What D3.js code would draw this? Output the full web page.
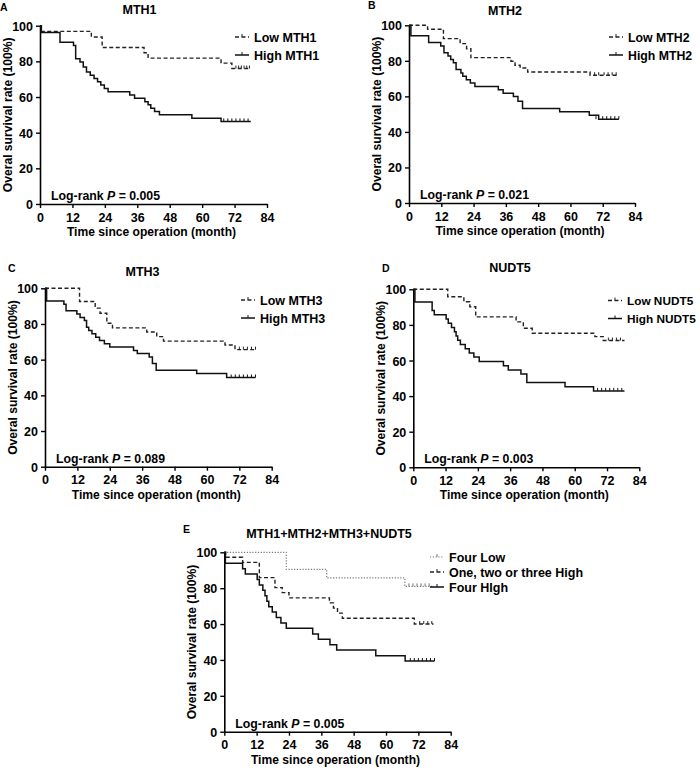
<!DOCTYPE html>
<html>
<head>
<meta charset="utf-8">
<script src="https://cdn.jsdelivr.net/npm/d3@7"></script>
<style>
  body { margin: 0; background: #fff; }
  svg { display: block; }
  text { font-family: "Liberation Sans", Arial, sans-serif; font-weight: bold; fill: #000; }
</style>
</head>
<body>
<svg id="chart" width="700" height="768"></svg>
<script>
// ---------- DATA ----------
const xTicks = [0, 12, 24, 36, 48, 60, 72, 84];
const yTicks = [0, 20, 40, 60, 80, 100];
const yTitle = "Overal survival rate (100%)";
const xTitle = "Time since operation (month)";

const panelLetters = ["A", "B", "C", "D", "E"];
const panelTitles = ["MTH1", "MTH2", "MTH3", "NUDT5", "MTH1+MTH2+MTH3+NUDT5"];
const pValues = ["0.005", "0.021", "0.089", "0.003", "0.005"];

// Panel A
const lowMTH1 = [[0,100],[0.5,96.8],[19,93.7],[23,87.8],[38.5,84.8],[40,81.8],[67,79],[71,76],[78,76]];
const highMTH1 = [[0,100],[0.5,96.2],[7.4,90.7],[12.4,88.9],[13.2,81.5],[14.8,79.6],[16,76.8],[17.2,74.1],[18.6,72.2],[20,70.4],[21.3,68.5],[22.5,66.7],[23.8,64.8],[25.2,63.0],[33.2,61.1],[35,59.3],[38.8,57.4],[40,55.6],[41,53.7],[42.4,51.9],[44.2,50.0],[56.2,48.1],[67,46.3],[78,46.3]];
const censLowMTH1 = [72.5, 73.5, 74.5, 75.5, 76.5, 77.5];
const censHighMTH1 = [68, 69.5, 71, 72.5, 74, 75.5, 77];

// Panel B
const lowMTH2 = [[0,100],[6.9,97.8],[12.8,92.5],[19,89.7],[21.4,86.8],[23,81.8],[37.9,79.8],[39.4,77.5],[41.3,76.0],[44.1,73.7],[67.3,71.9],[78,71.9]];
const highMTH2 = [[0,100],[0.7,94.1],[7.3,90.3],[11.8,88.4],[13,84.6],[14.5,82.7],[15.5,80.8],[16.5,78.9],[17.5,75.1],[19.3,73.2],[20,71.3],[21.3,69.4],[22.8,67.5],[24.5,65.6],[33.2,63.7],[35,61.8],[38.8,59.9],[40.5,57.2],[42.2,53.2],[56,51.3],[67,49.4],[70.5,47.2],[78,47.2]];
const censLowMTH2 = [69, 70.5, 72.5, 74, 75.5, 77];
const censHighMTH2 = [69.5, 72, 73.5, 75, 76.5, 78];

// Panel C
const lowMTH3 = [[0,100],[12.8,92.6],[18.6,88.9],[20.4,86.0],[22.9,80.4],[25,77.8],[37.7,75.5],[41.4,72.9],[43.9,70.4],[66.7,68.2],[70.4,65.6],[78,65.6]];
const highMTH3 = [[0,100],[0.6,92.9],[7,91.1],[7.8,87.4],[11.8,85.6],[13,83.7],[14.6,81.9],[15.4,78.2],[16.2,76.3],[17.4,74.5],[18.8,72.6],[20.2,70.8],[22,68.9],[24,67.1],[32.8,65.2],[34.2,63.4],[38.6,61.5],[39.8,57.8],[41.2,54.1],[56.2,52.2],[67.3,50.0],[78,50.0]];
const censLowMTH3 = [72, 73.5, 75, 76.5, 78];
const censHighMTH3 = [69, 70.5, 72, 73.5, 75, 76.5, 78];

// Panel D
const lowNUDT5 = [[0,100],[12.8,95.8],[18.8,93.0],[21,90.2],[23.2,84.5],[38.2,81.7],[40.9,78.1],[44.2,75.3],[67.5,73.4],[70.6,71.2],[78.5,71.2]];
const highNUDT5 = [[0,100],[0.6,92.9],[7,88.1],[7.8,85.7],[12.2,83.3],[13,80.9],[14.2,78.5],[15.3,76.1],[15.9,73.8],[16.5,71.4],[17.5,69.0],[19.3,66.6],[20.8,64.2],[22.5,61.9],[24.5,59.5],[33.5,57.1],[35.3,54.7],[40,52.4],[42.2,47.6],[56.4,45.2],[67,42.9],[78.5,42.9]];
const censLowNUDT5 = [72.5, 74, 75.5, 77];
const censHighNUDT5 = [68.5, 70, 71.5, 73, 74.5, 76, 77.5];

// Panel E
const fourLow = [[0,100],[23,90.5],[38,85.7],[67,81.0],[77.6,81.0]];
const oneTwoThreeHigh = [[0,100],[0.5,97.2],[6.8,94.4],[13,85.9],[18.8,80.3],[21.5,77.5],[24,74.6],[39,71.8],[40.5,68.9],[42,66.1],[43.8,63.2],[70.5,60.0],[77.6,60.0]];
const fourHigh = [[0,100],[0.4,93.9],[6.8,90.9],[7.8,87.9],[12.2,84.8],[13,81.8],[14.3,78.8],[15.1,75.8],[15.8,72.7],[16.5,69.7],[17.8,66.7],[19.3,63.6],[21,60.6],[23,57.6],[32.8,54.5],[34.9,51.5],[39.2,48.5],[41.7,45.5],[56.2,42.4],[67.1,39.4],[78,39.4]];
const censFourLow = [68.5, 70, 71.5, 73, 74.5, 76];
const censMid = [72.5, 74, 75.5, 77];
const censFourHigh = [69, 70.5, 72, 73.5, 75, 76.5, 78];

// ---------- LAYOUT ----------
const panels = [
  { left: 40, right: 267, top: 25.7, bottom: 204, letterX: 0, letterY: 11, titleX: 139.5, titleY: 13.5, legX: 235, legY: 37, legFont: 12.5,
    series: [
      { name: "Low MTH1", data: lowMTH1, cens: censLowMTH1, style: "dash" },
      { name: "High MTH1", data: highMTH1, cens: censHighMTH1, style: "solid" } ] },
  { left: 409, right: 635, top: 25.3, bottom: 203, letterX: 368, letterY: 9, titleX: 505, titleY: 15, legX: 609, legY: 37, legFont: 12.3,
    series: [
      { name: "Low MTH2", data: lowMTH2, cens: censLowMTH2, style: "dash" },
      { name: "High MTH2", data: highMTH2, cens: censHighMTH2, style: "solid" } ] },
  { left: 45, right: 271.7, top: 288.3, bottom: 466.7, letterX: 8, letterY: 272, titleX: 142.5, titleY: 276, legX: 241, legY: 300, legFont: 12.5,
    series: [
      { name: "Low MTH3", data: lowMTH3, cens: censLowMTH3, style: "dash" },
      { name: "High MTH3", data: highMTH3, cens: censHighMTH3, style: "solid" } ] },
  { left: 413.3, right: 639.3, top: 289.3, bottom: 467.3, letterX: 382, letterY: 272, titleX: 510, titleY: 272, legX: 608, legY: 300.5, legFont: 11.8,
    series: [
      { name: "Low NUDT5", data: lowNUDT5, cens: censLowNUDT5, style: "dash" },
      { name: "High NUDT5", data: highNUDT5, cens: censHighNUDT5, style: "solid" } ] },
  { left: 224.3, right: 450.7, top: 552.3, bottom: 731.7, letterX: 183, letterY: 533, titleX: 329, titleY: 538, legX: 430, legY: 557, legFont: 12.5,
    series: [
      { name: "Four Low", data: fourLow, cens: censFourLow, style: "dot" },
      { name: "One, two or three High", data: oneTwoThreeHigh, cens: censMid, style: "dash" },
      { name: "Four HIgh", data: fourHigh, cens: censFourHigh, style: "solid" } ] }
];

const styles = {
  solid: { color: "#111", dash: null, width: 1.5 },
  dash: { color: "#222", dash: "4,2.5", width: 1.4 },
  dot: { color: "#777", dash: "1.2,1.6", width: 1.2 }
};

const tickFont = "DejaVu Sans, Verdana, sans-serif";
const svg = d3.select("#chart");

panels.forEach((p, i) => {
  const g = svg.append("g");
  const x = d3.scaleLinear().domain([0, 84]).range([p.left, p.right]);
  const y = d3.scaleLinear().domain([0, 100]).range([p.bottom, p.top]);

  // axes
  const ax = g.append("g").attr("transform", `translate(0,${p.bottom})`)
    .call(d3.axisBottom(x).tickValues(xTicks).tickSize(4).tickSizeOuter(0));
  const ay = g.append("g").attr("transform", `translate(${p.left},0)`)
    .call(d3.axisLeft(y).tickValues(yTicks).tickSize(4).tickSizeOuter(0));
  [ax, ay].forEach(a => {
    a.select(".domain").attr("stroke", "#000").attr("stroke-width", 1.6);
    a.selectAll(".tick line").attr("stroke", "#000").attr("stroke-width", 1.4);
    a.selectAll(".tick text").attr("font-family", tickFont)
      .attr("font-weight", "bold").attr("font-size", 12.5).attr("fill", "#000");
  });
  ax.selectAll(".tick text").attr("y", 17.5).attr("dy", null);
  ay.selectAll(".tick text").attr("x", -7).attr("dy", "0.36em");

  // axis titles
  g.append("text").attr("x", (p.left + p.right) / 2 - 2).attr("y", p.bottom + 32)
    .attr("text-anchor", "middle").attr("font-size", 12.1).text(xTitle);
  g.append("text")
    .attr("transform", `translate(${p.left - 28},${(p.top + p.bottom) / 2}) rotate(-90)`)
    .attr("text-anchor", "middle").attr("font-size", 12.1).text(yTitle);

  // letter and title
  g.append("text").attr("x", p.letterX).attr("y", p.letterY).attr("font-size", 10.5).text(panelLetters[i]);
  g.append("text").attr("x", p.titleX).attr("y", p.titleY).attr("text-anchor", "middle")
    .attr("font-size", 12.5).text(panelTitles[i]);

  // log-rank
  const lr = g.append("text").attr("x", p.left + 11).attr("y", p.bottom - 4).attr("font-size", 12.3);
  lr.append("tspan").text("Log-rank ");
  lr.append("tspan").attr("font-style", "italic").text("P");
  lr.append("tspan").text(" = " + pValues[i]);

  // curves
  const line = d3.line().x(d => x(d[0])).y(d => y(d[1])).curve(d3.curveStepAfter);
  p.series.forEach((s, k) => {
    const st = styles[s.style];
    g.append("path").datum(s.data).attr("d", line).attr("fill", "none")
      .attr("stroke", st.color).attr("stroke-width", st.width)
      .attr("stroke-dasharray", st.dash);
    const last = s.data[s.data.length - 1][1];
    g.selectAll(null).data(s.cens).enter().append("line")
      .attr("x1", d => x(d)).attr("x2", d => x(d))
      .attr("y1", y(last)).attr("y2", y(last) - 3)
      .attr("stroke", st.color).attr("stroke-width", 1);

    // legend
    const ly = p.legY + k * (i === 4 ? 15 : 18);
    g.append("line").attr("x1", p.legX).attr("x2", p.legX + 14)
      .attr("y1", ly).attr("y2", ly).attr("stroke", st.color)
      .attr("stroke-width", st.width).attr("stroke-dasharray", st.dash);
    g.append("line").attr("x1", p.legX + 7).attr("x2", p.legX + 7)
      .attr("y1", ly).attr("y2", ly - 3).attr("stroke", st.color).attr("stroke-width", 1);
    g.append("text").attr("x", p.legX + 19).attr("y", ly + 4.5)
      .attr("font-size", p.legFont).text(s.name);
  });
});
</script>
</body>
</html>
